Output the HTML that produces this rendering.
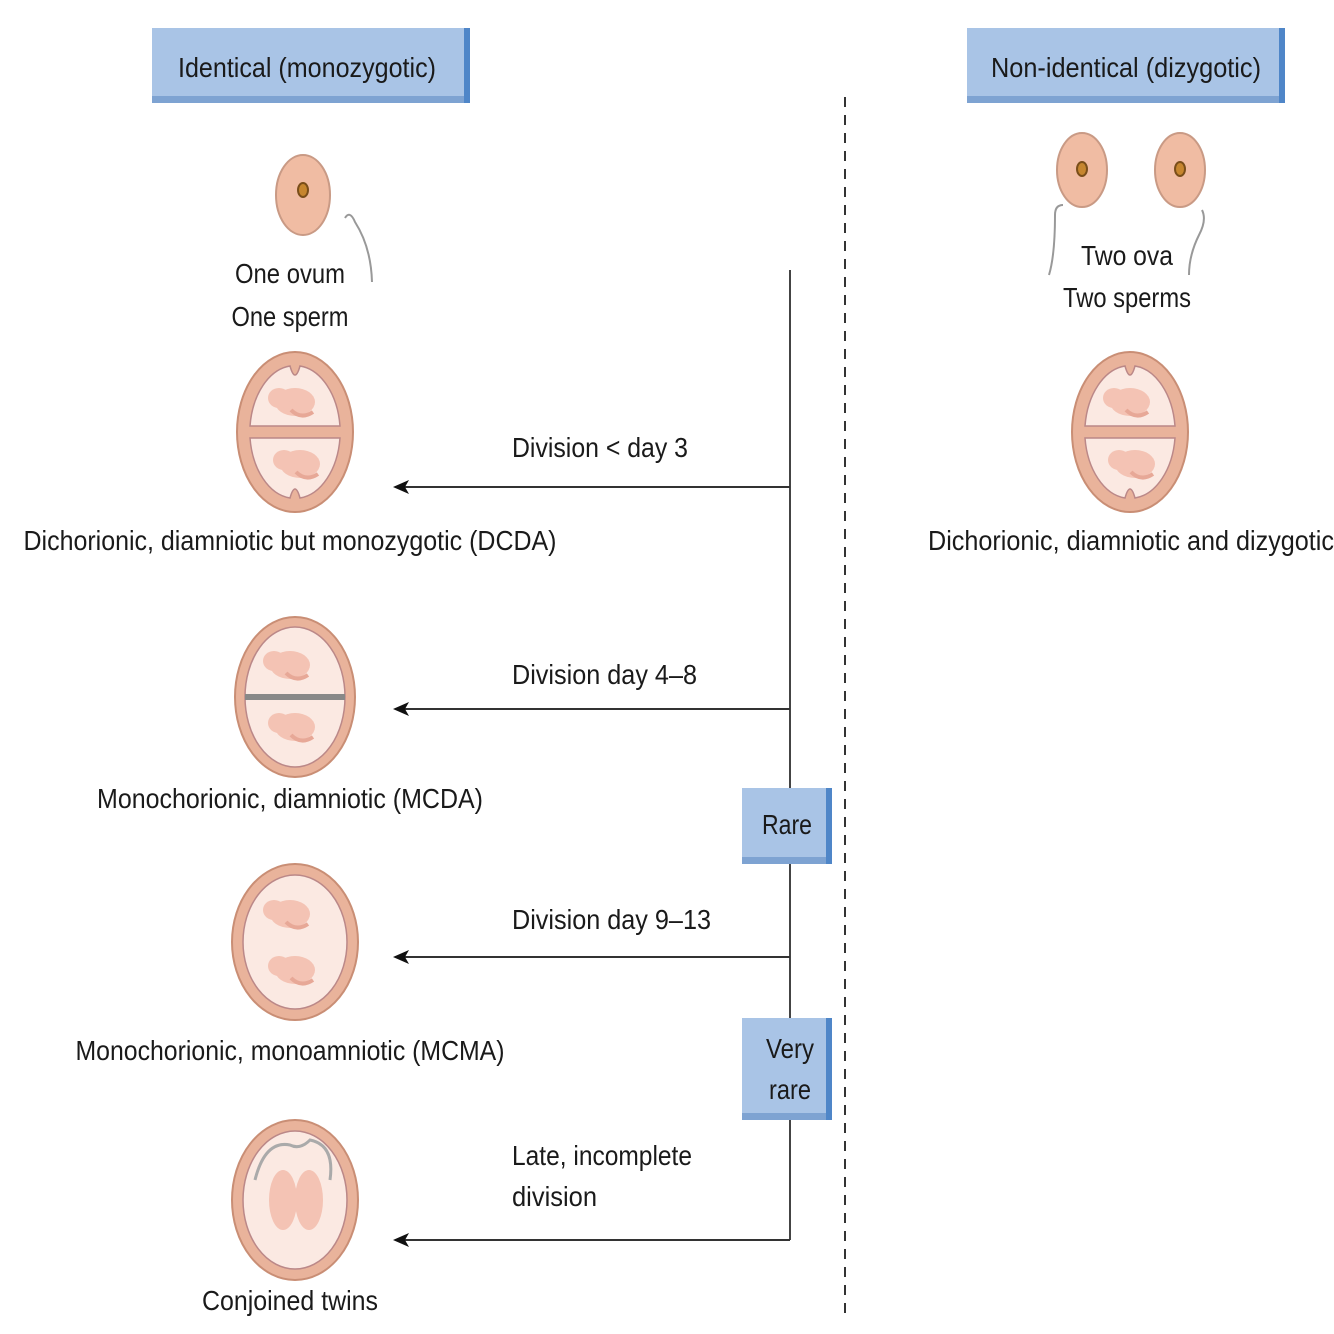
<!DOCTYPE html>
<html><head><meta charset="utf-8"><style>
html,body{margin:0;padding:0;background:#fff}
svg{display:block}
text{font-family:"Liberation Sans Narrow","Liberation Sans",sans-serif;fill:#1a1a1a;font-size:28px}
</style></head><body>
<svg width="1334" height="1334" viewBox="0 0 1334 1334" xmlns="http://www.w3.org/2000/svg">
<defs>
<marker id="ah" markerWidth="16" markerHeight="14" refX="12" refY="7" orient="auto" markerUnits="userSpaceOnUse">
<path d="M16,7 L0,0 L4,7 L0,14 Z" fill="#111"/></marker>
<g id="fet">
<ellipse cx="0" cy="0" rx="20" ry="14" fill="#f4c3b4"/>
<ellipse cx="-16" cy="-4" rx="11" ry="10" fill="#f4c3b4"/>
<path d="M-4,8 q10,10 22,2" stroke="#e7a897" stroke-width="4" fill="none"/>
</g>
</defs>
<rect x="152" y="28" width="318" height="75" fill="#a9c4e6"/>
<rect x="152" y="96" width="318" height="7" fill="#7ea3d2"/>
<rect x="464" y="28" width="6" height="75" fill="#4f86c8"/>
<text x="307" y="77" text-anchor="middle" textLength="258" lengthAdjust="spacingAndGlyphs">Identical (monozygotic)</text>
<rect x="967" y="28" width="318" height="75" fill="#a9c4e6"/>
<rect x="967" y="96" width="318" height="7" fill="#7ea3d2"/>
<rect x="1279" y="28" width="6" height="75" fill="#4f86c8"/>
<text x="1126" y="77" text-anchor="middle" textLength="270" lengthAdjust="spacingAndGlyphs">Non-identical (dizygotic)</text>
<line x1="845" y1="97" x2="845" y2="1316" stroke="#333" stroke-width="2" stroke-dasharray="10,8"/>
<ellipse cx="303" cy="195" rx="27" ry="40" fill="#f0bca3" stroke="#c99a85" stroke-width="2"/>
<ellipse cx="303" cy="190" rx="5" ry="7" fill="#c6862f" stroke="#7a4e1a" stroke-width="2"/>
<path d="M345,218 q5,-8 10,4 q16,25 17,60" stroke="#999" stroke-width="2" fill="none"/>
<ellipse cx="1082" cy="170" rx="25" ry="37" fill="#f0bca3" stroke="#c99a85" stroke-width="2"/>
<ellipse cx="1082" cy="169" rx="5" ry="7" fill="#c6862f" stroke="#7a4e1a" stroke-width="2"/>
<ellipse cx="1180" cy="170" rx="25" ry="37" fill="#f0bca3" stroke="#c99a85" stroke-width="2"/>
<ellipse cx="1180" cy="169" rx="5" ry="7" fill="#c6862f" stroke="#7a4e1a" stroke-width="2"/>
<path d="M1063,205 q-8,0 -8,10 q0,40 -6,60" stroke="#999" stroke-width="2" fill="none"/>
<path d="M1202,210 q5,10 -3,25 q-10,20 -10,40" stroke="#999" stroke-width="2" fill="none"/>
<text x="290" y="283" text-anchor="middle" textLength="110" lengthAdjust="spacingAndGlyphs">One ovum</text>
<text x="290" y="326" text-anchor="middle" textLength="117" lengthAdjust="spacingAndGlyphs">One sperm</text>
<text x="1127" y="265" text-anchor="middle" textLength="92" lengthAdjust="spacingAndGlyphs">Two ova</text>
<text x="1127" y="307" text-anchor="middle" textLength="128" lengthAdjust="spacingAndGlyphs">Two sperms</text>
<g transform="translate(295,432)">
<ellipse rx="58" ry="80" fill="#e9b39b" stroke="#c98e75" stroke-width="2"/>
<path d="M-45,-6 A45,68 0 0 1 -5,-66 q5,18 10,0 A45,68 0 0 1 45,-6 Z" fill="#fbe9e2" stroke="#b88" stroke-width="1.5"/>
<path d="M-45,6 A45,68 0 0 0 -5,66 q5,-18 10,0 A45,68 0 0 0 45,6 Z" fill="#fbe9e2" stroke="#b88" stroke-width="1.5"/>
<use href="#fet" x="0" y="-30"/><use href="#fet" x="5" y="32"/>
</g>
<g transform="translate(1130,432)">
<ellipse rx="58" ry="80" fill="#e9b39b" stroke="#c98e75" stroke-width="2"/>
<path d="M-45,-6 A45,68 0 0 1 -5,-66 q5,18 10,0 A45,68 0 0 1 45,-6 Z" fill="#fbe9e2" stroke="#b88" stroke-width="1.5"/>
<path d="M-45,6 A45,68 0 0 0 -5,66 q5,-18 10,0 A45,68 0 0 0 45,6 Z" fill="#fbe9e2" stroke="#b88" stroke-width="1.5"/>
<use href="#fet" x="0" y="-30"/><use href="#fet" x="5" y="32"/>
</g>
<text x="290" y="550" text-anchor="middle" textLength="533" lengthAdjust="spacingAndGlyphs">Dichorionic, diamniotic but monozygotic (DCDA)</text>
<text x="1131" y="550" text-anchor="middle" textLength="406" lengthAdjust="spacingAndGlyphs">Dichorionic, diamniotic and dizygotic</text>
<g transform="translate(295,697)">
<ellipse rx="60" ry="80" fill="#e9b39b" stroke="#c98e75" stroke-width="2"/>
<ellipse rx="50" ry="70" fill="#fbe9e2" stroke="#b88" stroke-width="1.5"/>
<rect x="-50" y="-3" width="100" height="6" fill="#888"/>
<use href="#fet" x="-5" y="-32"/><use href="#fet" x="0" y="30"/>
</g>
<text x="290" y="808" text-anchor="middle" textLength="386" lengthAdjust="spacingAndGlyphs">Monochorionic, diamniotic (MCDA)</text>
<g transform="translate(295,942)">
<ellipse rx="63" ry="78" fill="#e9b39b" stroke="#c98e75" stroke-width="2"/>
<ellipse rx="52" ry="67" fill="#fbe9e2" stroke="#b88" stroke-width="1.5"/>
<use href="#fet" x="-5" y="-28"/><use href="#fet" x="0" y="28"/>
</g>
<text x="290" y="1060" text-anchor="middle" textLength="429" lengthAdjust="spacingAndGlyphs">Monochorionic, monoamniotic (MCMA)</text>
<g transform="translate(295,1200)">
<ellipse rx="63" ry="80" fill="#e9b39b" stroke="#c98e75" stroke-width="2"/>
<ellipse rx="52" ry="69" fill="#fbe9e2" stroke="#b88" stroke-width="1.5"/>
<path d="M-40,-20 q10,-40 35,-35 q10,5 20,-5 q25,5 20,40" stroke="#aaa" stroke-width="3" fill="none"/>
<ellipse cx="-12" cy="0" rx="14" ry="30" fill="#f4c3b4"/>
<ellipse cx="14" cy="0" rx="14" ry="30" fill="#f4c3b4"/>
</g>
<text x="290" y="1310" text-anchor="middle" textLength="176" lengthAdjust="spacingAndGlyphs">Conjoined twins</text>
<line x1="790" y1="270" x2="790" y2="1240" stroke="#444" stroke-width="2"/>
<line x1="790" y1="487" x2="397" y2="487" stroke="#333" stroke-width="2" marker-end="url(#ah)"/>
<line x1="790" y1="709" x2="397" y2="709" stroke="#333" stroke-width="2" marker-end="url(#ah)"/>
<line x1="790" y1="957" x2="397" y2="957" stroke="#333" stroke-width="2" marker-end="url(#ah)"/>
<line x1="790" y1="1240" x2="397" y2="1240" stroke="#333" stroke-width="2" marker-end="url(#ah)"/>
<text x="512" y="457" textLength="176" lengthAdjust="spacingAndGlyphs">Division &lt; day 3</text>
<text x="512" y="684" textLength="185" lengthAdjust="spacingAndGlyphs">Division day 4–8</text>
<text x="512" y="929" textLength="199" lengthAdjust="spacingAndGlyphs">Division day 9–13</text>
<text x="512" y="1165" textLength="180" lengthAdjust="spacingAndGlyphs">Late, incomplete</text>
<text x="512" y="1206" textLength="85" lengthAdjust="spacingAndGlyphs">division</text>
<rect x="742" y="788" width="90" height="76" fill="#a9c4e6"/>
<rect x="742" y="857" width="90" height="7" fill="#7ea3d2"/>
<rect x="826" y="788" width="6" height="76" fill="#4f86c8"/>
<text x="787" y="834" text-anchor="middle" textLength="50" lengthAdjust="spacingAndGlyphs">Rare</text>
<rect x="742" y="1018" width="90" height="102" fill="#a9c4e6"/>
<rect x="742" y="1113" width="90" height="7" fill="#7ea3d2"/>
<rect x="826" y="1018" width="6" height="102" fill="#4f86c8"/>
<text x="790" y="1058" text-anchor="middle" textLength="48" lengthAdjust="spacingAndGlyphs">Very</text>
<text x="790" y="1099" text-anchor="middle" textLength="42" lengthAdjust="spacingAndGlyphs">rare</text>
</svg>
</body></html>
